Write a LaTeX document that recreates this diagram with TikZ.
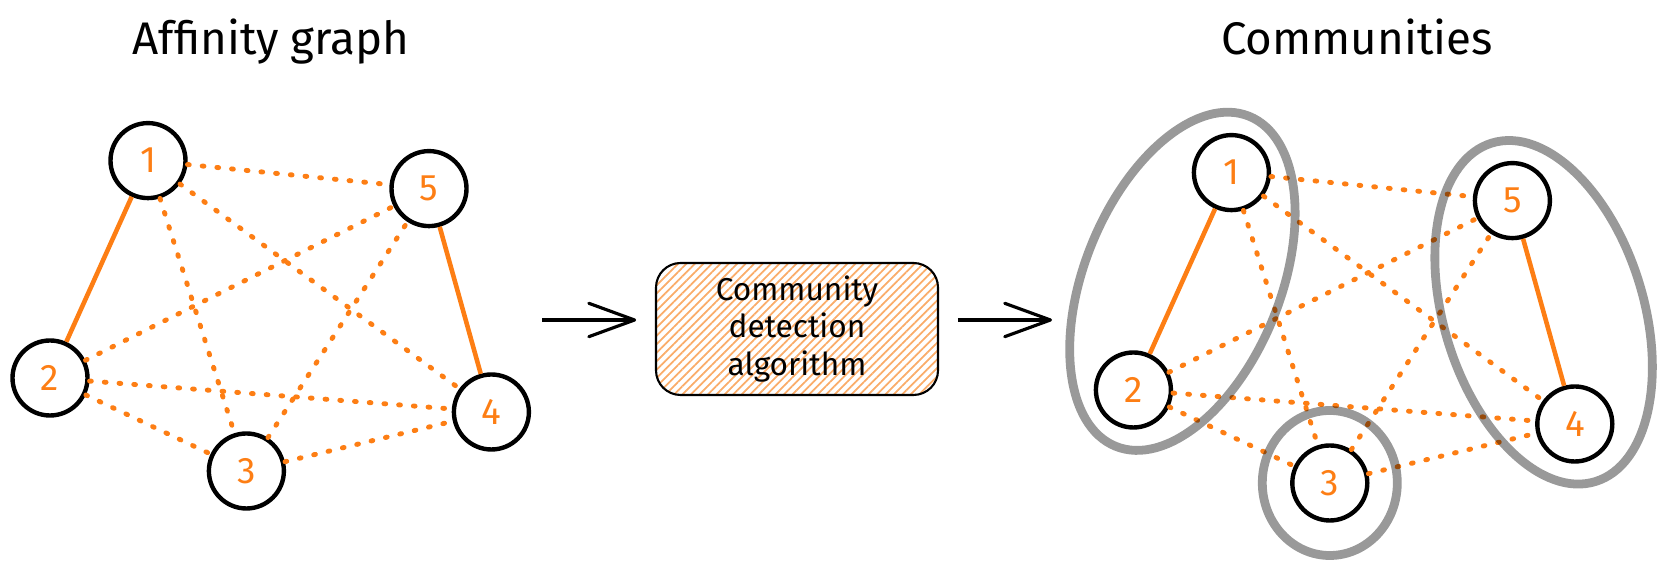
\documentclass[tikz,border=0pt]{standalone}
\usepackage{fontspec}
\setmainfont{Fira Sans}
\usepackage{tikz}
\usetikzlibrary{arrows.meta,calc,positioning}
\usetikzlibrary{shapes.geometric,patterns.meta}
\definecolor{edgeorange}{RGB}{253,126,20}
\definecolor{hatchorange}{RGB}{250,172,105}

\begin{document}
\begin{tikzpicture}[
    vert/.style={circle, draw=black, line width=1.25pt, fill=white, minimum size=0.75cm, inner sep=0pt,
      text=edgeorange, font=\fontsize{10.5}{12}\selectfont},
    strong/.style={draw=edgeorange, line width=1.3pt},
    weak/.style={draw=edgeorange, line width=1.4pt, line cap=round, dash pattern=on 0.5pt off 3.7pt},
    group/.style={ellipse, draw=black, draw opacity=0.4, line width=2.5pt, inner sep=0pt},
    flow/.style={draw=black, line width=0.9pt, -{Straight Barb[length=13pt, width=9.5pt, round]}},
    algobox/.style={rectangle, rounded corners=7pt, draw=black, line width=0.6pt,
      minimum width=2.82cm, minimum height=1.32cm, align=center,
      pattern={Lines[angle=45, distance=1.7pt, line width=0.5pt]}, pattern color=hatchorange,
      font=\fontsize{9}{10.8}\selectfont},
    heading/.style={anchor=base, font=\fontsize{13}{15}\selectfont}]

  \useasboundingbox (0,0) rectangle (16.61,-5.70);

  % Affinity graph
  \node[vert] (a2) at (0.50,-3.78) {2};
  \node[vert, above=1.38cm of a2, xshift=0.98cm] (a1) {1};
  \node[vert, above=1.10cm of a2, xshift=3.79cm] (a5) {5};
  \node[vert, right=3.62cm of a2, yshift=-0.34cm] (a4) {4};
  \node[vert, right=1.17cm of a2, yshift=-0.93cm] (a3) {3};
  \node[heading] (atitle) at (2.71,-0.55) {Affinity graph};

  \draw[strong] (a1) -- (a2);
  \draw[strong] (a5) -- (a4);

  \draw[weak] (a1) -- (a5);
  \draw[weak] (a1) -- (a3);
  \draw[weak] (a1) -- (a4);
  \draw[weak] (a2) -- (a5);
  \draw[weak] (a2) -- (a4);
  \draw[weak] (a2) -- (a3);
  \draw[weak] (a3) -- (a5);
  \draw[weak] (a3) -- (a4);

  % Graph --> algorithm --> communities
  \node[algobox] (algo) at (7.97,-3.29) {Community\\detection\\algorithm};
  \coordinate (in) at (5.42,-3.20);
  \coordinate (out) at (10.52,-3.20);

  \draw[flow, shorten >=0.19cm] (in) -- (in -| algo.west);
  \draw[flow, shorten <=0.19cm] (algo.east |- out) -- (out);

  % Communities
  \node[vert, right=10.04cm of a2, yshift=-0.12cm] (b2) {2};
  \node[vert, above=1.38cm of b2, xshift=0.98cm] (b1) {1};
  \node[vert, above=1.10cm of b2, xshift=3.79cm] (b5) {5};
  \node[vert, right=3.62cm of b2, yshift=-0.34cm] (b4) {4};
  \node[vert, right=1.17cm of b2, yshift=-0.93cm] (b3) {3};
  \node[heading] (btitle) at (13.57,-0.55) {Communities};

  \draw[strong] (b1) -- (b2);
  \draw[strong] (b5) -- (b4);

  \draw[weak] (b1) -- (b5);
  \draw[weak] (b1) -- (b3);
  \draw[weak] (b1) -- (b4);
  \draw[weak] (b2) -- (b5);
  \draw[weak] (b2) -- (b4);
  \draw[weak] (b2) -- (b3);
  \draw[weak] (b3) -- (b5);
  \draw[weak] (b3) -- (b4);

  \node[group, rotate=68, minimum width=3.56cm, minimum height=1.96cm] (c12) at ($(b1)!0.5!(b2)$) {};
  \node[group, rotate=107, minimum width=3.54cm, minimum height=2.0cm] (c54) at ($(b5)!0.5!(b4)$) {};
  \node[group, minimum width=1.35cm, minimum height=1.45cm] (c3) at (b3) {};

\end{tikzpicture}
\end{document}
